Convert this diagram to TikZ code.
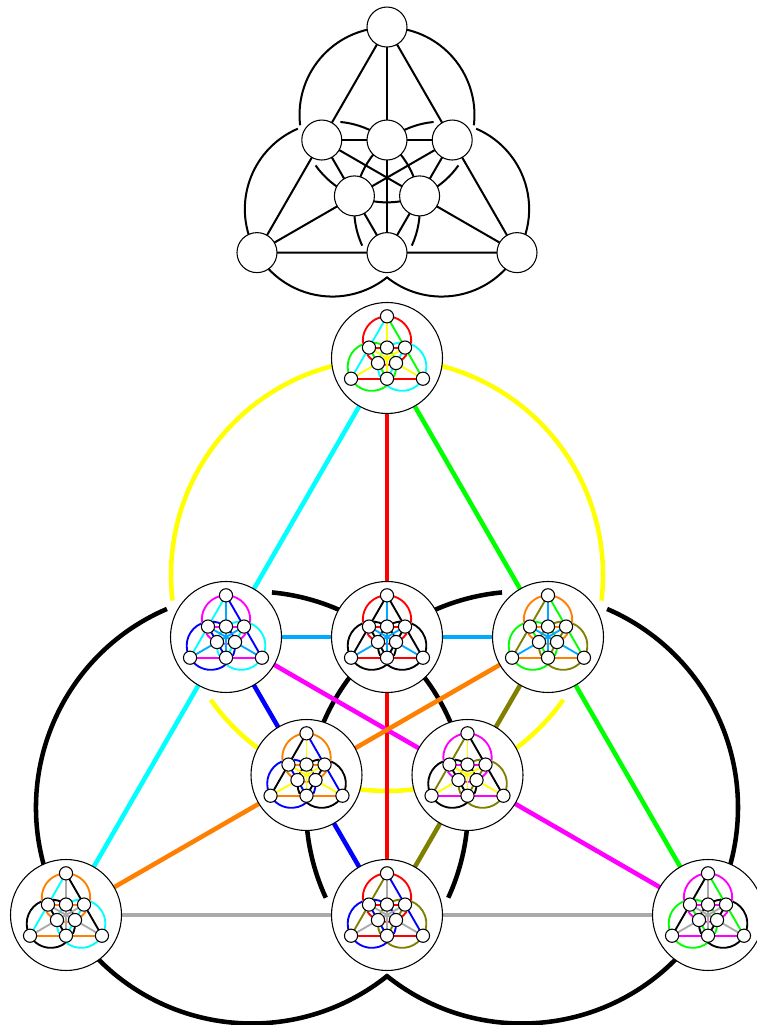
\documentclass[tikz,border=0pt]{standalone}
\definecolor{dodgerx}{HTML}{00AAFF}
\definecolor{orangex}{HTML}{FF8000}
\definecolor{olivex}{HTML}{808000}
\definecolor{grayx}{HTML}{AAAAAA}
\definecolor{cyanx}{HTML}{00FFFF}
\definecolor{redx}{HTML}{FF0000}
\definecolor{greenx}{HTML}{00FF00}
\definecolor{yellowx}{HTML}{FFFF00}
\definecolor{magentax}{HTML}{FF00FF}
\definecolor{bluex}{HTML}{0000FF}
\pgfdeclarelayer{big lines}
\pgfdeclarelayer{big nodes}
\pgfdeclarelayer{small lines}
\pgfdeclarelayer{small nodes}
\pgfsetlayers{big lines,big nodes,small lines,small nodes,main}
\tikzset{
  x=.75pt,y=.75pt,
  pnode/.style={circle,draw=black,fill=white,inner sep=0pt,outer sep=0pt,line width=.8pt,minimum size=#1*.75pt},
  bigedge/.style={line width=3.4pt},
  topedge/.style={line width=1.5pt},
  inneredge/.style={line width=1.4pt},
}
% nine points of the plane, relative to the centroid
\newcommand{\fanonodes}[2]{%
  \node[pnode=#2] (#1A) at (0,372) {};
  \node[pnode=#2] (#1B) at (-161,93) {};
  \node[pnode=#2] (#1C) at (0,93) {};
  \node[pnode=#2] (#1D) at (161,93) {};
  \node[pnode=#2] (#1E) at (-80.5,-45) {};
  \node[pnode=#2] (#1F) at (80.5,-45) {};
  \node[pnode=#2] (#1G) at (-321,-185) {};
  \node[pnode=#2] (#1H) at (0,-185) {};
  \node[pnode=#2] (#1I) at (321,-185) {};
  \coordinate (#1cY) at (0,155);
  \coordinate (#1cL) at (-135,-77.5);
  \coordinate (#1cR) at (135,-77.5);
}
\newcommand{\ringarc}[3]{%
  \foreach \aa/\bb in {#2}
    {\draw[#3] (#1) ++(\aa:216) arc[start angle=\aa,end angle=\bb,radius=216];}
}
\newcommand{\fanolines}[2]{%
  \ringarc{#1cY}{90/186.8,215.3/324.7,353.2/450}{#2,lAEF}
  \ringarc{#1cL}{113.2/309,335.3/444.7}{#2,lGCF}
  \ringarc{#1cR}{-129/66.8,95.3/204.7}{#2,lICE}
  \draw[#2,lABG] (#1A) -- (#1G);
  \draw[#2,lADI] (#1A) -- (#1I);
  \draw[#2,lGHI] (#1G) -- (#1I);
  \draw[#2,lBCD] (#1B) -- (#1D);
  \draw[#2,lBEH] (#1B) -- (#1H);
  \draw[#2,lDFH] (#1D) -- (#1H);
  \draw[#2,lACH] (#1A) -- (#1H);
  \draw[#2,lIFB] (#1I) -- (#1B);
  \draw[#2,lGED] (#1G) -- (#1D);
}
\newcommand{\setclasses}[4]{%
  \tikzset{lABG/.style={color=#1},lICE/.style={color=#1},lDFH/.style={color=#1},
           lADI/.style={color=#2},lGCF/.style={color=#2},lBEH/.style={color=#2},
           lACH/.style={color=#3},lGED/.style={color=#3},lIFB/.style={color=#3},
           lGHI/.style={color=#4},lBCD/.style={color=#4},lAEF/.style={color=#4}}%
}
\begin{document}
\begin{tikzpicture}
\useasboundingbox (0,0) rectangle (757,1025);
% the big diagram
\begin{scope}[shift={(387,295)}]
  \begin{pgfonlayer}{big nodes}
    \fanonodes{b}{111}
  \end{pgfonlayer}
  \begin{pgfonlayer}{big lines}
    \tikzset{lAEF/.style={color=yellowx},lGCF/.style={color=black},lICE/.style={color=black},
      lABG/.style={color=cyanx},lACH/.style={color=redx},lADI/.style={color=greenx},
      lGHI/.style={color=grayx},lBCD/.style={color=dodgerx},lGED/.style={color=orangex},
      lIFB/.style={color=magentax},lBEH/.style={color=bluex},lDFH/.style={color=olivex}}
    \fanolines{b}{bigedge}
  \end{pgfonlayer}
\end{scope}
% the copy on top
\begin{scope}[shift={(387,847.3)},scale=.405]
  \begin{pgfonlayer}{small nodes}
    \fanonodes{t}{40}
  \end{pgfonlayer}
  \begin{pgfonlayer}{small lines}
    \setclasses{black}{black}{black}{black}
    \fanolines{t}{topedge}
  \end{pgfonlayer}
\end{scope}
% the copy inside each big node
\foreach \n/\ca/\cb/\cc/\cd in {
  A/cyanx/greenx/yellowx/redx,
  B/cyanx/bluex/dodgerx/magentax,
  C/black/black/dodgerx/redx,
  D/olivex/greenx/dodgerx/orangex,
  E/black/bluex/yellowx/orangex,
  F/olivex/black/yellowx/magentax,
  G/cyanx/black/grayx/orangex,
  H/olivex/bluex/grayx/redx,
  I/black/greenx/grayx/magentax}{
  \begin{scope}[shift={(b\n)},scale=.112]
    \begin{pgfonlayer}{small nodes}
      \fanonodes{\n-}{13.2}
    \end{pgfonlayer}
    \begin{pgfonlayer}{small lines}
      \setclasses{\ca}{\cb}{\cc}{\cd}
      \fanolines{\n-}{inneredge}
    \end{pgfonlayer}
  \end{scope}
}
\end{tikzpicture}
\end{document}
